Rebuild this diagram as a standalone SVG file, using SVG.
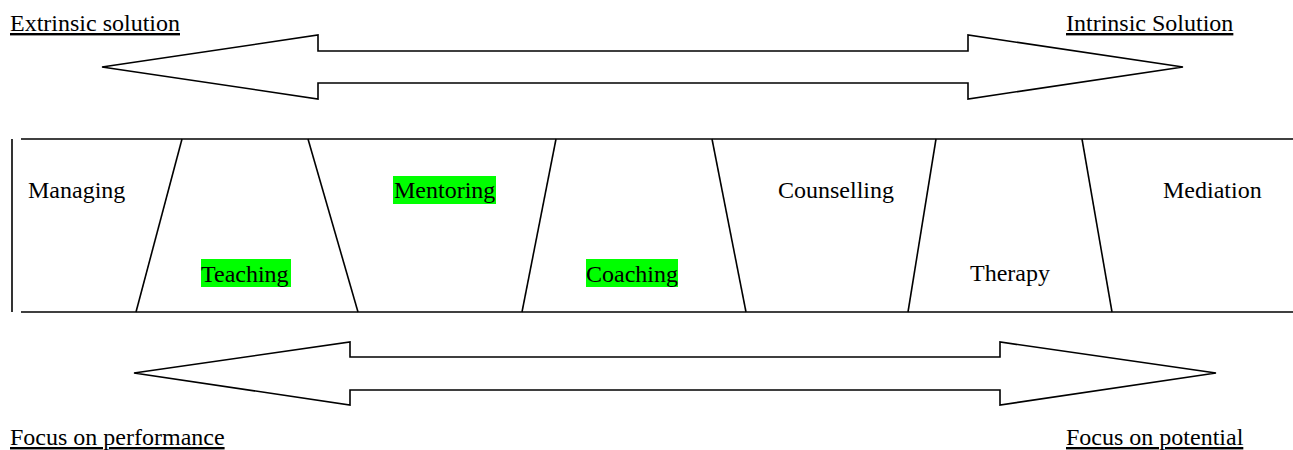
<svg xmlns="http://www.w3.org/2000/svg" width="1293" height="450" viewBox="0 0 1293 450">
<style>
text{font-family:"Liberation Serif","Times New Roman",serif;font-size:24px;fill:#000}
.u{text-decoration:underline}
.ln{stroke:#000;stroke-width:1.6;fill:none}
.ar{stroke:#000;stroke-width:1.6;fill:#fff;stroke-linejoin:miter}
.hl{fill:#00ff00}
</style>
<rect width="1293" height="450" fill="#fff"/>
<g id="labels">
<text class="u" x="10" y="31">Extrinsic solution</text>
<text class="u" x="1066" y="31">Intrinsic Solution</text>
<text class="u" x="10" y="445">Focus on performance</text>
<text class="u" x="1066" y="445">Focus on potential</text>
</g>
<g id="connectors">
<path id="arrow-top" class="ar" d="M102,67 L318,35 L318,51 L968,51 L968,35 L1183,67 L968,99 L968,83 L318,83 L318,99 Z"/>
<path id="arrow-bottom" class="ar" d="M134,373 L350,342 L350,357 L1000,357 L1000,342 L1216,373 L1000,405 L1000,390 L350,390 L350,405 Z"/>
</g>
<g id="band">
<line class="ln" x1="12" y1="139" x2="12" y2="312"/>
<line class="ln" x1="21" y1="139" x2="1293" y2="139"/>
<line class="ln" x1="21" y1="312" x2="1293" y2="312"/>
<line class="ln" x1="182" y1="139" x2="136" y2="312"/>
<line class="ln" x1="308" y1="139" x2="358" y2="312"/>
<line class="ln" x1="556" y1="139" x2="522" y2="312"/>
<line class="ln" x1="712" y1="139" x2="746" y2="312"/>
<line class="ln" x1="936" y1="139" x2="908" y2="312"/>
<line class="ln" x1="1082" y1="139" x2="1112" y2="312"/>
</g>
<g id="managing"><text x="28" y="198">Managing</text></g>
<g id="teaching"><rect class="hl" x="201" y="259" width="90" height="28"/><text x="201" y="282">Teaching</text></g>
<g id="mentoring"><rect class="hl" x="393" y="176" width="103" height="28"/><text x="394" y="198">Mentoring</text></g>
<g id="coaching"><rect class="hl" x="586" y="259" width="92" height="28"/><text x="586" y="282">Coaching</text></g>
<g id="counselling"><text x="778" y="198">Counselling</text></g>
<g id="therapy"><text x="970" y="281">Therapy</text></g>
<g id="mediation"><text x="1163" y="198">Mediation</text></g>
</svg>
